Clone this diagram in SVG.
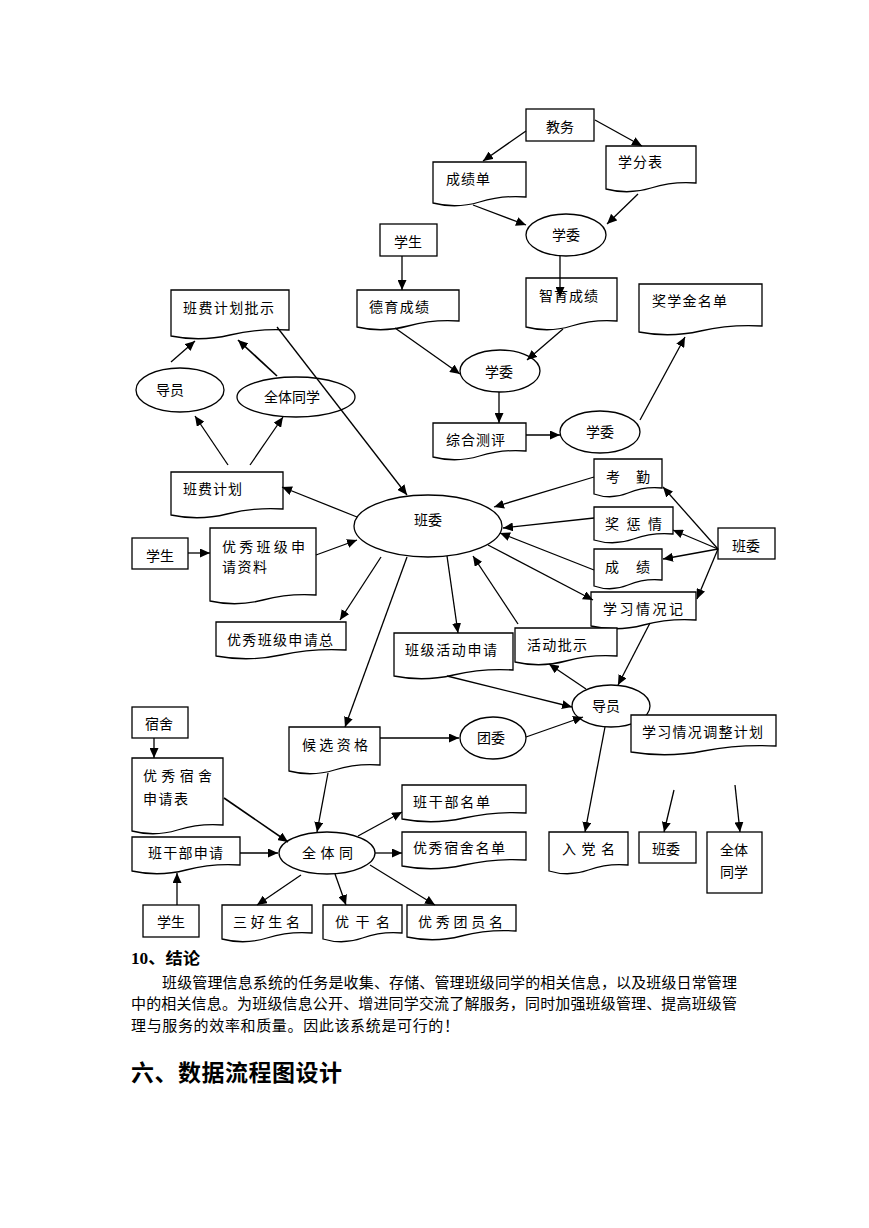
<svg xmlns="http://www.w3.org/2000/svg" width="869" height="1228" viewBox="0 0 869 1228">
<style>
.n{fill:#fff;stroke:#000;stroke-width:1.3}
.t{font-family:"Liberation Serif","Noto Sans CJK SC",serif;font-size:14px;fill:#000}
.m{text-anchor:middle}
.c line{stroke:#000;stroke-width:1.3;marker-end:url(#ah)}
.p{font-family:"Liberation Serif","Noto Sans CJK SC",serif;font-size:15px;fill:#000}
.h{font-family:"Liberation Serif","Noto Sans CJK SC",serif;font-weight:bold;fill:#000}
</style>
<defs>
<marker id="ah" markerUnits="userSpaceOnUse" markerWidth="11" markerHeight="9" refX="10" refY="4.5" orient="auto"><path d="M0,0 L10,4.5 L0,9 Z" fill="#000"/></marker>
</defs>
<rect width="869" height="1228" fill="#fff"/>

<g id="n-jiaowu"><rect class="n" x="526" y="109" width="68" height="32"/><text class="t m" x="560" y="132">教务</text></g>
<g id="n-chengjidan"><path class="n" d="M433,162 H526 V197 Q502.8,195 479.5,202 T433,203 Z"/><text class="t" x="446" y="184" textLength="44" lengthAdjust="spacing">成绩单</text></g>
<g id="n-xuefenbiao"><path class="n" d="M606,146 H696 V183 Q673.5,181 651,188 T606,189 Z"/><text class="t" x="618" y="167" textLength="44" lengthAdjust="spacing">学分表</text></g>
<g id="n-xuewei1"><ellipse class="n" cx="566" cy="235" rx="40" ry="21"/><text class="t m" x="566" y="240">学委</text></g>
<g id="n-xuesheng1"><rect class="n" x="380" y="224" width="57" height="32"/><text class="t m" x="408" y="247">学生</text></g>
<g id="n-deyu"><path class="n" d="M357,290 H459 V321 Q433.5,319 408,326 T357,327 Z"/><text class="t" x="369" y="312" textLength="60" lengthAdjust="spacing">德育成绩</text></g>
<g id="n-zhiyu"><path class="n" d="M526,278 H617 V321 Q594.3,319 571.5,326 T526,327 Z"/><text class="t" x="539" y="301" textLength="59" lengthAdjust="spacing">智育成绩</text></g>
<g id="n-jiangxuejin"><path class="n" d="M639,284 H762 V326 Q731.3,324 700.5,331 T639,332 Z"/><text class="t" x="652" y="306" textLength="75" lengthAdjust="spacing">奖学金名单</text></g>
<g id="n-xuewei2"><ellipse class="n" cx="500" cy="371" rx="40" ry="21"/><text class="t m" x="499" y="377">学委</text></g>
<g id="n-zonghe"><path class="n" d="M433,423 H526 V451 Q502.8,449 479.5,456 T433,457 Z"/><text class="t" x="446" y="445" textLength="59" lengthAdjust="spacing">综合测评</text></g>
<g id="n-xuewei3"><ellipse class="n" cx="600" cy="432" rx="40" ry="21"/><text class="t m" x="600" y="437">学委</text></g>

<g id="n-banfeipishi"><path class="n" d="M171,290 H289 V330 Q259.5,328 230,335 T171,336 Z"/><text class="t" x="183" y="313" textLength="91" lengthAdjust="spacing">班费计划批示</text></g>
<g id="n-daoyuan1"><ellipse class="n" cx="180" cy="390" rx="44" ry="22"/><text class="t m" x="170" y="395">导员</text></g>
<g id="n-quanti1"><ellipse class="n" cx="296" cy="397" rx="59" ry="20"/><text class="t m" x="292" y="402">全体同学</text></g>
<g id="n-banfeijihua"><path class="n" d="M171,472 H283 V509 Q255,507 227,514 T171,515 Z"/><text class="t" x="183" y="494" textLength="59" lengthAdjust="spacing">班费计划</text></g>
<g id="n-xuesheng2"><rect class="n" x="132" y="538" width="56" height="31"/><text class="t m" x="160" y="561">学生</text></g>
<g id="n-youxiuziliao"><path class="n" d="M210,528 H316 V595 Q289.5,593 263,600 T210,601 Z"/><text class="t" x="222" y="552" textLength="83" lengthAdjust="spacing">优秀班级申</text><text class="t" x="222" y="572" textLength="45" lengthAdjust="spacing">请资料</text></g>

<g id="n-banwei"><ellipse class="n" cx="428" cy="526" rx="74" ry="31"/><text class="t m" x="428" y="525">班委</text></g>
<g id="n-kaoqin"><path class="n" d="M594,459 H662 V488 Q645,486 628,493 T594,494 Z"/><text class="t" x="606" y="482" textLength="44" lengthAdjust="spacing">考  勤</text></g>
<g id="n-jiangcheng"><path class="n" d="M594,507 H673 V534 Q653.3,532 633.5,539 T594,540 Z"/><text class="t" x="605" y="529" textLength="57" lengthAdjust="spacing">奖 惩 情</text></g>
<g id="n-chengji"><path class="n" d="M594,549 H662 V580 Q645,578 628,585 T594,586 Z"/><text class="t" x="605" y="572" textLength="45" lengthAdjust="spacing">成  绩</text></g>
<g id="n-banwei-r"><rect class="n" x="718" y="528" width="57" height="31"/><text class="t m" x="746" y="551">班委</text></g>
<g id="n-xuexiji"><path class="n" d="M591,592 H696 V620 Q669.8,618 643.5,625 T591,626 Z"/><text class="t" x="603" y="614" textLength="80" lengthAdjust="spacing">学习情况记</text></g>
<g id="n-huodongshenqing"><path class="n" d="M394,633 H513 V670 Q483.3,668 453.5,675 T394,676 Z"/><text class="t" x="405" y="655" textLength="92" lengthAdjust="spacing">班级活动申请</text></g>
<g id="n-huodongpishi"><path class="n" d="M515,628 H617 V656 Q591.5,654 566,661 T515,662 Z"/><text class="t" x="527" y="650" textLength="60" lengthAdjust="spacing">活动批示</text></g>
<g id="n-youxiuzong"><path class="n" d="M216,622 H346 V650 Q313.5,648 281,655 T216,656 Z"/><text class="t" x="227" y="645" textLength="106" lengthAdjust="spacing">优秀班级申请总</text></g>

<g id="n-daoyuan2"><ellipse class="n" cx="611" cy="706" rx="39" ry="21"/><text class="t m" x="606" y="711">导员</text></g>
<g id="n-tiaozheng"><path class="n" d="M631,715 H776 V746 Q739.8,744 703.5,751 T631,752 Z"/><text class="t" x="642" y="737" textLength="121" lengthAdjust="spacing">学习情况调整计划</text></g>
<g id="n-tuanwei"><ellipse class="n" cx="493" cy="738" rx="33" ry="21"/><text class="t m" x="491" y="743">团委</text></g>
<g id="n-houxuan"><path class="n" d="M289,727 H380 V765 Q357.3,763 334.5,770 T289,771 Z"/><text class="t" x="302" y="750" textLength="66" lengthAdjust="spacing">候 选 资 格</text></g>
<g id="n-sushe"><rect class="n" x="132" y="707" width="56" height="31"/><text class="t m" x="159" y="729">宿舍</text></g>
<g id="n-sushebiao"><path class="n" d="M132,758 H223 V825 Q200.3,823 177.5,830 T132,831 Z"/><text class="t" x="143" y="781" textLength="69" lengthAdjust="spacing">优 秀 宿 舍</text><text class="t" x="143" y="804" textLength="45" lengthAdjust="spacing">申请表</text></g>
<g id="n-quanti2"><ellipse class="n" cx="327" cy="853" rx="48" ry="21"/><text class="t" x="302" y="858" textLength="51" lengthAdjust="spacing">全 体 同</text></g>
<g id="n-ganbushenqing"><path class="n" d="M132,837 H240 V865 Q213,863 186,870 T132,871 Z"/><text class="t" x="148" y="858" textLength="75" lengthAdjust="spacing">班干部申请</text></g>
<g id="n-xuesheng3"><rect class="n" x="143" y="905" width="56" height="32"/><text class="t m" x="171" y="927">学生</text></g>
<g id="n-ganbumingdan"><path class="n" d="M402,785 H526 V813 Q495,811 464,818 T402,819 Z"/><text class="t" x="413" y="807" textLength="77" lengthAdjust="spacing">班干部名单</text></g>
<g id="n-sushemingdan"><path class="n" d="M402,832 H526 V860 Q495,858 464,865 T402,866 Z"/><text class="t" x="413" y="853" textLength="92" lengthAdjust="spacing">优秀宿舍名单</text></g>
<g id="n-sanhao"><path class="n" d="M222,905 H312 V933 Q289.5,931 267,938 T222,939 Z"/><text class="t" x="233" y="927" textLength="67" lengthAdjust="spacing">三 好 生 名</text></g>
<g id="n-yougan"><path class="n" d="M323,905 H402 V933 Q382.3,931 362.5,938 T323,939 Z"/><text class="t" x="335" y="927" textLength="55" lengthAdjust="spacing">优 干 名</text></g>
<g id="n-tuanyuan"><path class="n" d="M407,905 H516 V931 Q488.8,929 461.5,936 T407,937 Z"/><text class="t" x="418" y="927" textLength="85" lengthAdjust="spacing">优 秀 团 员 名</text></g>
<g id="n-rudang"><path class="n" d="M549,832 H628 V865 Q608.3,863 588.5,870 T549,871 Z"/><text class="t" x="562" y="854" textLength="53" lengthAdjust="spacing">入 党 名</text></g>
<g id="n-banwei-b"><rect class="n" x="639" y="832" width="57" height="31"/><text class="t m" x="666" y="854">班委</text></g>
<g id="n-quanti3"><rect class="n" x="707" y="832" width="55" height="61"/><text class="t m" x="734" y="855">全体</text><text class="t m" x="734" y="877">同学</text></g>

<g id="connectors" class="c">
<line x1="526" y1="131" x2="483" y2="161"/>
<line x1="595" y1="120" x2="642" y2="146"/>
<line x1="473" y1="205" x2="526" y2="225"/>
<line x1="638" y1="194" x2="607" y2="224"/>
<line x1="560" y1="256" x2="560" y2="297"/>
<line x1="402" y1="256" x2="402" y2="290"/>
<line x1="395" y1="328" x2="460" y2="374"/>
<line x1="563" y1="329" x2="527" y2="360"/>
<line x1="499" y1="392" x2="499" y2="423"/>
<line x1="526" y1="435" x2="560" y2="435"/>
<line x1="640" y1="420" x2="685" y2="337"/>
<line x1="171" y1="362" x2="195" y2="341"/>
<line x1="277" y1="376" x2="238" y2="340" style="stroke-width:1.7"/>
<line x1="228" y1="465" x2="195" y2="416"/>
<line x1="250" y1="465" x2="283" y2="417"/>
<line x1="277" y1="327" x2="407" y2="495"/>
<line x1="357" y1="517" x2="282" y2="487"/>
<line x1="188" y1="553" x2="210" y2="553"/>
<line x1="316" y1="555" x2="357" y2="540"/>
<line x1="594" y1="477" x2="494" y2="507"/>
<line x1="594" y1="518" x2="503" y2="528"/>
<line x1="594" y1="570" x2="500" y2="533"/>
<line x1="488" y1="545" x2="593" y2="600"/>
<line x1="718" y1="549" x2="663" y2="487"/>
<line x1="718" y1="549" x2="673" y2="530"/>
<line x1="718" y1="549" x2="663" y2="559"/>
<line x1="718" y1="549" x2="697" y2="599"/>
<line x1="447" y1="556" x2="458" y2="633"/>
<line x1="518" y1="624" x2="473" y2="556"/>
<line x1="650" y1="623" x2="618" y2="685"/>
<line x1="586" y1="689" x2="549" y2="664"/>
<line x1="447" y1="676" x2="572" y2="707"/>
<line x1="526" y1="737" x2="583" y2="717"/>
<line x1="380" y1="738" x2="459" y2="738" style="stroke-width:1.6"/>
<line x1="407" y1="557" x2="345" y2="727"/>
<line x1="381" y1="557" x2="340" y2="620"/>
<line x1="605" y1="727" x2="585" y2="832"/>
<line x1="674" y1="790" x2="664" y2="832"/>
<line x1="735" y1="785" x2="740" y2="832"/>
<line x1="154" y1="738" x2="154" y2="758"/>
<line x1="328" y1="773" x2="317" y2="832"/>
<line x1="224" y1="798" x2="288" y2="842" style="stroke-width:1.6"/>
<line x1="240" y1="853" x2="278" y2="853"/>
<line x1="177" y1="905" x2="177" y2="873"/>
<line x1="358" y1="836" x2="402" y2="812"/>
<line x1="375" y1="853" x2="402" y2="853"/>
<line x1="301" y1="875" x2="257" y2="905"/>
<line x1="335" y1="874" x2="346" y2="905"/>
<line x1="370" y1="865" x2="435" y2="905"/>
</g>

<g id="text-body">
<text class="h" x="131" y="964" font-size="16" textLength="69" lengthAdjust="spacingAndGlyphs">10、结论</text>
<text class="p" x="162" y="988" textLength="575" lengthAdjust="spacing">班级管理信息系统的任务是收集、存储、管理班级同学的相关信息，以及班级日常管理</text>
<text class="p" x="131" y="1009" textLength="606" lengthAdjust="spacing">中的相关信息。为班级信息公开、增进同学交流了解服务，同时加强班级管理、提高班级管</text>
<text class="p" x="131" y="1031" textLength="328" lengthAdjust="spacing">理与服务的效率和质量。因此该系统是可行的！</text>
<text class="h" x="131" y="1081" font-size="23" textLength="211" lengthAdjust="spacing">六、数据流程图设计</text>
</g>
</svg>
